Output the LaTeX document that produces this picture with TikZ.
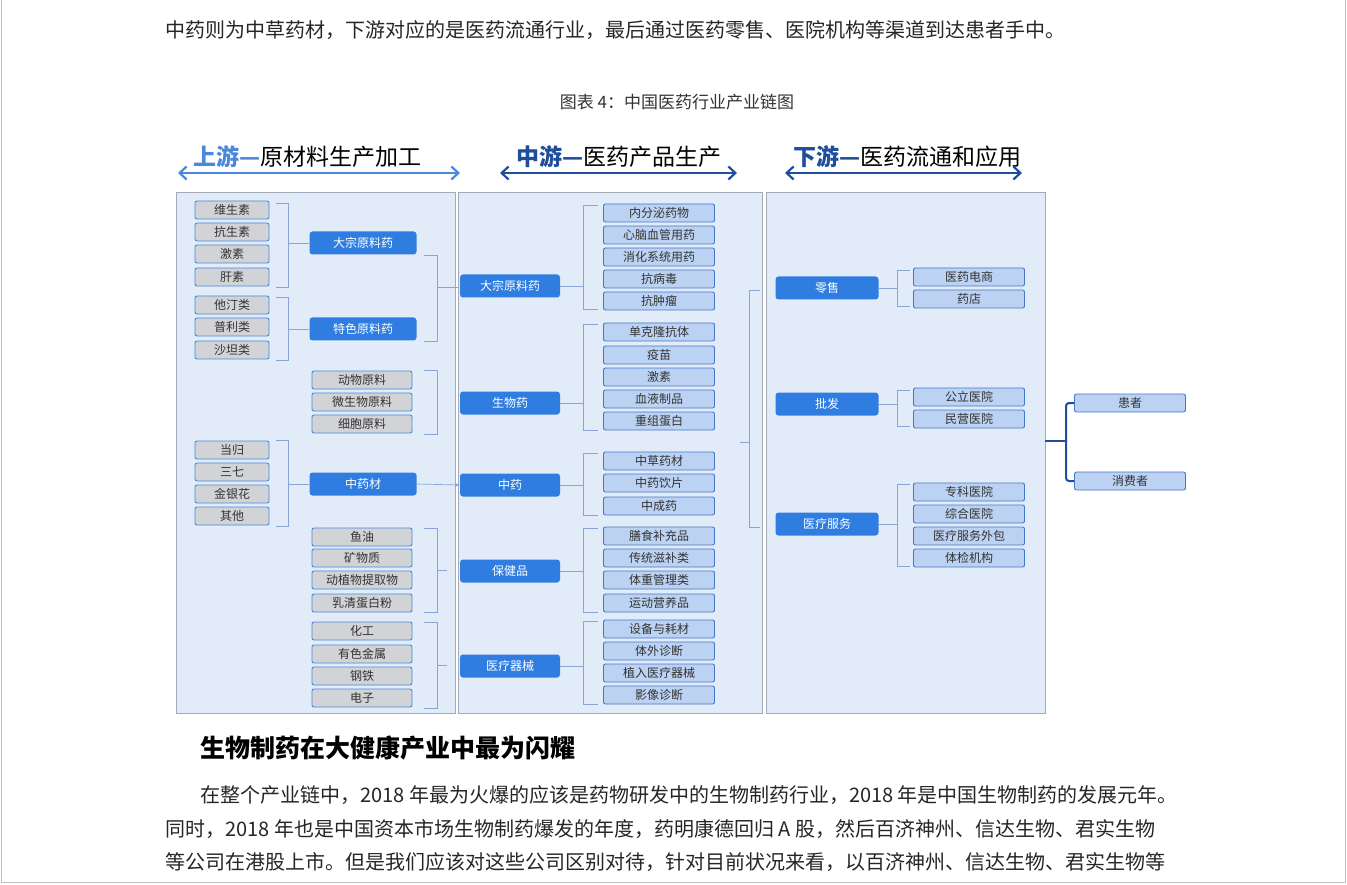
\documentclass[tikz,border=0pt]{standalone}
\usepackage{fontspec}
\setmainfont{Noto Sans CJK SC}
\usetikzlibrary{arrows.meta}
\definecolor{panel}{HTML}{E2EBF8}
\definecolor{pborder}{HTML}{A3AAB8}
\definecolor{bblue}{HTML}{2F7DE1}
\definecolor{gfill}{HTML}{D2D3D6}
\definecolor{lfill}{HTML}{BCD2F2}
\definecolor{lborder}{HTML}{4576CC}
\definecolor{brk}{HTML}{86A6D6}
\definecolor{hlight}{HTML}{4A88DC}
\definecolor{hdark}{HTML}{1E4E9C}
\tikzset{
 gbox/.style={draw=hlight,fill=gfill,rounded corners=2pt,line width=0.9pt,minimum height=18pt,inner sep=0pt,font=\fontsize{12}{12}\selectfont,text=black!80},
 lbox/.style={draw=lborder,fill=lfill,rounded corners=2pt,line width=0.9pt,minimum height=18pt,minimum width=111pt,inner sep=0pt,font=\fontsize{12}{12}\selectfont,text=black!80},
 bbox/.style={fill=bblue,rounded corners=3pt,minimum height=23pt,inner sep=0pt,font=\fontsize{12}{12}\selectfont,text=white},
 brk/.style={draw=brk,line width=0.7pt},
 ptxt/.style={anchor=west,font=\fontsize{20}{20}\selectfont,text=black!85,inner sep=0pt},
}
\begin{document}
\begin{tikzpicture}[x=1pt,y=-1pt]
\fill[white] (0,0) rectangle (1347,885);
\useasboundingbox (0,0) rectangle (1347,885);
\draw[gray!50] (1,0) -- (1,882) -- (1345,882) -- (1345,0);
\node[ptxt] (t0) at (165,30) {中药则为中草药材，下游对应的是医药流通行业，最后通过医药零售、医院机构等渠道到达患者手中。};
\node[font=\fontsize{17}{17}\selectfont,text=black!80] (cap) at (677,102) {图表 4：中国医药行业产业链图};
% headers
\node[anchor=west,inner sep=0pt,font=\fontsize{23}{23}\selectfont] (h1) at (193,157) {\textcolor{hlight}{\textbf{上游—}}原材料生产加工};
\node[anchor=west,inner sep=0pt,font=\fontsize{23}{23}\selectfont] (h2) at (516,157) {\textcolor{hdark}{\textbf{中游—}}医药产品生产};
\node[anchor=west,inner sep=0pt,font=\fontsize{23}{23}\selectfont] (h3) at (793,157) {\textcolor{hdark}{\textbf{下游—}}医药流通和应用};
\coordinate (a1) at (178,173); \coordinate (b1) at (460,173);
\coordinate (a2) at (500,173); \coordinate (b2) at (737,173);
\coordinate (a3) at (785,173); \coordinate (b3) at (1022,173);
\draw[hlight,line width=2.2pt,{Straight Barb[length=7pt,width=13pt]}-{Straight Barb[length=7pt,width=13pt]}] (a1) -- (b1);
\draw[hdark,line width=2.2pt,{Straight Barb[length=7pt,width=13pt]}-{Straight Barb[length=7pt,width=13pt]}] (a2) -- (b2);
\draw[hdark,line width=2.2pt,{Straight Barb[length=7pt,width=13pt]}-{Straight Barb[length=7pt,width=13pt]}] (a3) -- (b3);
% panels
\draw[pborder,fill=panel] (176,192) rectangle (455,713);
\draw[pborder,fill=panel] (458,192) rectangle (762,713);
\draw[pborder,fill=panel] (766,192) rectangle (1045,713);
% left column
\foreach \t/\y [count=\i] in {维生素/210,抗生素/232,激素/254,肝素/277,他汀类/305,普利类/327,沙坦类/350,当归/450,三七/472,金银花/494,其他/516}
  \node[gbox,minimum width=74pt] (g\i) at (232,\y) {\t};
\foreach \t/\y [count=\i] in {动物原料/380,微生物原料/402,细胞原料/424,鱼油/537,矿物质/558,动植物提取物/580,乳清蛋白粉/603,化工/631,有色金属/654,钢铁/676,电子/698}
  \node[gbox,minimum width=100pt] (m\i) at (362,\y) {\t};
\node[bbox,minimum width=107pt] (L1) at (363,243) {大宗原料药};
\node[bbox,minimum width=107pt] (L2) at (363,329) {特色原料药};
\node[bbox,minimum width=107pt] (L3) at (363,484) {中药材};
% left brackets
\draw[brk] (276,203) -| (288,287) -- (276,287); \draw[brk] (288,243) -- (L1.west);
\draw[brk] (276,297) -| (288,360) -- (276,360); \draw[brk] (288,329) -- (L2.west);
\draw[brk] (276,440) -| (288,526) -- (276,526); \draw[brk] (288,484) -- (L3.west);
\draw[brk] (424,255) -| (437,341) -- (424,341); \draw[brk] (437,287) -- (458,287);
\draw[brk] (424,370) -| (437,434) -- (424,434);
\draw[brk] (424,528) -| (437,612) -- (424,612); \draw[brk] (437,570) -- (447,570);
\draw[brk] (424,622) -| (437,708) -- (424,708); \draw[brk] (437,665) -- (447,665);
% middle
\node[bbox,minimum width=100pt] (M1) at (510,286) {大宗原料药};
\node[bbox,minimum width=100pt] (M2) at (510,403) {生物药};
\node[bbox,minimum width=100pt] (M3) at (510,485) {中药};
\node[bbox,minimum width=100pt] (M4) at (510,571) {保健品};
\node[bbox,minimum width=100pt] (M5) at (510,666) {医疗器械};
\draw[brk,-{Stealth[length=5pt]}] (L3.east) -- (M3.west);
\foreach \t/\y [count=\i] in {内分泌药物/213,心脑血管用药/235,消化系统用药/257,抗病毒/279,抗肿瘤/301,单克隆抗体/332,疫苗/355,激素/377,血液制品/399,重组蛋白/421,中草药材/461,中药饮片/483,中成药/506,膳食补充品/536,传统滋补类/558,体重管理类/580,运动营养品/603,设备与耗材/629,体外诊断/651,植入医疗器械/673,影像诊断/695}
  \node[lbox] (c\i) at (659,\y) {\t};
\draw[brk] (598,205) -| (583,309) -- (598,309); \draw[brk] (M1.east) -- (583,286);
\draw[brk] (598,324) -| (583,430) -- (598,430); \draw[brk] (M2.east) -- (583,403);
\draw[brk] (598,453) -| (583,515) -- (598,515); \draw[brk] (M3.east) -- (583,485);
\draw[brk] (598,528) -| (583,612) -- (598,612); \draw[brk] (M4.east) -- (583,571);
\draw[brk] (598,621) -| (583,704) -- (598,704); \draw[brk] (M5.east) -- (583,666);
\draw[brk] (760,290) -| (749,527) -- (760,527); \draw[brk] (749,442) -- (740,442);
% right
\node[bbox,minimum width=103pt] (R1) at (827,288) {零售};
\node[bbox,minimum width=103pt] (R2) at (827,404) {批发};
\node[bbox,minimum width=103pt] (R3) at (827,524) {医疗服务};
\foreach \t/\y [count=\i] in {医药电商/277,药店/299,公立医院/397,民营医院/419,专科医院/492,综合医院/514,医疗服务外包/536,体检机构/558}
  \node[lbox] (r\i) at (969,\y) {\t};
\draw[brk] (910,270) -| (897,306) -- (910,306); \draw[brk] (R1.east) -- (897,288);
\draw[brk] (910,390) -| (897,426) -- (910,426); \draw[brk] (R2.east) -- (897,404);
\draw[brk] (910,484) -| (897,566) -- (910,566); \draw[brk] (R3.east) -- (897,524);
\node[lbox] (p1) at (1130,403) {患者};
\node[lbox] (p2) at (1130,481) {消费者};
\coordinate (j) at (1045,441);
\draw[hdark,line width=2pt] (j) -- (1066,441);
\draw[hdark,line width=2pt,rounded corners=3pt] (p1.west) -| (1066,441) |- (p2.west);
% bottom text
\node[anchor=west,inner sep=0pt,font=\fontsize{25}{25}\selectfont\bfseries] (hd) at (200,748) {生物制药在大健康产业中最为闪耀};
\node[ptxt] (l1) at (200,795) {在整个产业链中，2018 年最为火爆的应该是药物研发中的生物制药行业，2018 年是中国生物制药的发展元年。};
\node[ptxt] (l2) at (165,829) {同时，2018 年也是中国资本市场生物制药爆发的年度，药明康德回归 A 股，然后百济神州、信达生物、君实生物};
\node[ptxt] (l3) at (165,862) {等公司在港股上市。但是我们应该对这些公司区别对待，针对目前状况来看，以百济神州、信达生物、君实生物等};
\end{tikzpicture}
\end{document}
